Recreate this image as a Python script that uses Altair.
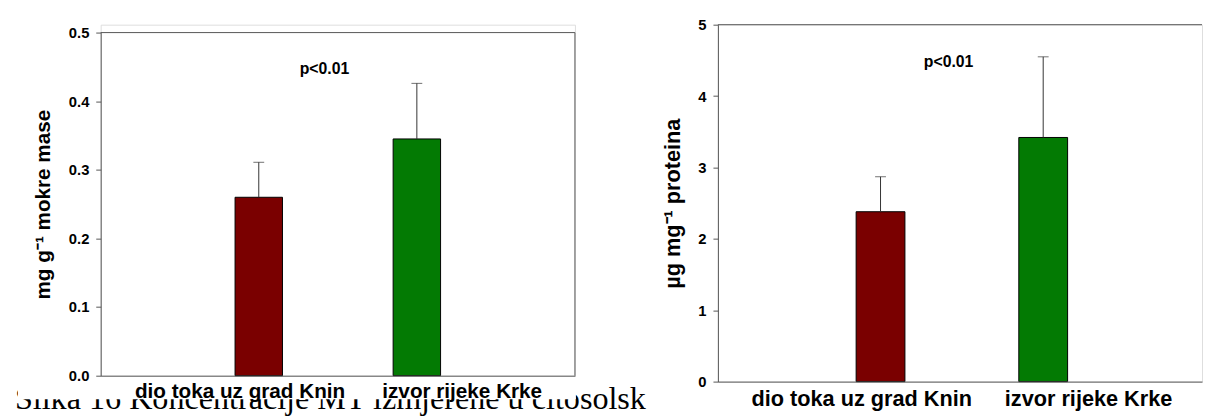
import altair as alt
import pandas as pd

# ---- data ----
sites = ["dio toka uz grad Knin", "izvor rijeke Krke"]
bar_colors = ["#7a0000", "#037a03"]

wet_mean = [0.260, 0.345]      # mg g-1 mokre mase
wet_err = [0.051, 0.081]

prot_mean = [2.38, 3.42]       # ug mg-1 proteina
prot_err = [0.49, 1.13]

wet_ticks = [0.0, 0.1, 0.2, 0.3, 0.4, 0.5]
prot_ticks = [0, 1, 2, 3, 4, 5]

p_label = "p<0.01"
caption_text = "Slika 16 Koncentracije MT izmjerene u citosolsk"

FONT = "Liberation Sans"
SERIF = "Liberation Serif"
AXIS_COLOR = "#555555"


def panel(means, errs, ymax, ticks, fmt, ytitle, width, height, top_gap,
          label_fs, title_fs, title_pad, label_pad, p_x, p_y,
          pad_outer, align, right_border=True, caption=None):
    df = pd.DataFrame({
        "site": sites,
        "mean": means,
        "upper": [m + e for m, e in zip(means, errs)],
        "color": bar_colors,
    })
    xscale = alt.Scale(domain=sites, paddingInner=0.7, paddingOuter=pad_outer, align=align)
    yscale = alt.Scale(domain=[0, ymax], range=[height, top_gap], nice=False, zero=True)

    x_axis = alt.Axis(title=None, labelAngle=0, ticks=False, labelFont=FONT,
                      labelFontWeight="bold", labelFontSize=label_fs, labelColor="black",
                      labelPadding=label_pad, labelLimit=0, labelOverlap=False,
                      domainColor=AXIS_COLOR, domainWidth=1, grid=False, zindex=1,
                      labelOffset={"condition": {"test": "datum.value == '" + sites[1] + "'",
                                                 "value": 46},
                                   "value": -19})
    y_axis = alt.Axis(title=ytitle, values=ticks, format=fmt, labelFont=FONT,
                      labelFontWeight="bold", labelFontSize=15, labelColor="black",
                      labelPadding=7, tickColor=AXIS_COLOR, tickSize=5, tickWidth=1,
                      domainColor=AXIS_COLOR, domainWidth=1, grid=False,
                      titleFont=FONT, titleFontWeight="bold", titleFontSize=title_fs,
                      titleColor="black", titlePadding=title_pad, zindex=1)

    X = alt.X("site:N", sort=sites, scale=xscale, axis=x_axis)

    base = alt.Chart(df)
    bars = base.mark_bar(stroke="black", strokeWidth=1).encode(
        x=X,
        y=alt.Y("mean:Q", scale=yscale, axis=y_axis),
        color=alt.Color("color:N", scale=None),
    )
    whisker = base.mark_rule(color="#333333", strokeWidth=1).encode(
        x=X,
        y=alt.Y("mean:Q", scale=yscale, axis=y_axis),
        y2="upper:Q",
    )
    caps = base.mark_tick(color="#333333", size=11, thickness=1).encode(
        x=X,
        y=alt.Y("upper:Q", scale=yscale, axis=y_axis),
    )

    frame_df = pd.DataFrame({"lo": [0], "hi": [ymax]})
    top_line = alt.Chart(frame_df).mark_rule(color=AXIS_COLOR, strokeWidth=1).encode(
        y=alt.Y("hi:Q", scale=yscale, axis=y_axis), x=alt.value(0), x2=alt.value(width))
    right_line = alt.Chart(frame_df).mark_rule(color=AXIS_COLOR, strokeWidth=1).encode(
        x=alt.value(width), y=alt.Y("lo:Q", scale=yscale, axis=y_axis), y2="hi:Q")

    p_df = pd.DataFrame({"py": [p_y], "t": [p_label]})
    ptext = alt.Chart(p_df).mark_text(font=FONT, fontWeight="bold", fontSize=16,
                                      color="black", align="center", baseline="middle").encode(
        x=alt.value(p_x), y=alt.Y("py:Q", scale=yscale, axis=y_axis), text="t:N")

    layers = []
    if caption is not None:
        cap_df = pd.DataFrame({"t": [caption]})
        cap_txt = alt.Chart(cap_df).mark_text(font=SERIF, fontSize=32.6, color="black",
                                              align="left", baseline="alphabetic").encode(
            x=alt.value(-87), y=alt.value(height + 34), text="t:N")
        mask = alt.Chart(cap_df).mark_rect(color="white").encode(
            x=alt.value(-84), x2=alt.value(width + 1),
            y=alt.value(height + 1), y2=alt.value(height + 24))
        layers += [cap_txt, mask]
    layers += [bars, whisker, caps, top_line]
    if right_border:
        layers.append(right_line)
    layers.append(ptext)
    return alt.layer(*layers).properties(width=width, height=height)


left = panel(wet_mean, wet_err, 0.5, wet_ticks, ".1f", "mg g\u207b\u00b9 mokre mase",
             481, 356, 8, 21, 21, 15, 5, 227, 0.447, 0.85, 0.5, caption=caption_text)
right = panel(prot_mean, prot_err, 5, prot_ticks, "d", "\u00b5g mg\u207b\u00b9 proteina",
              491, 362, 0, 22, 22, 14, 7, 234, 4.475, 0.838, 0.507, right_border=False)

chart = alt.hconcat(left, right, spacing=145, bounds="flush").properties(
    padding={"left": 6, "top": 6, "right": 0, "bottom": 0}
).configure_view(strokeWidth=0).configure(background="white")

chart.save("out.html", embed_options={"renderer": "svg", "actions": False})
